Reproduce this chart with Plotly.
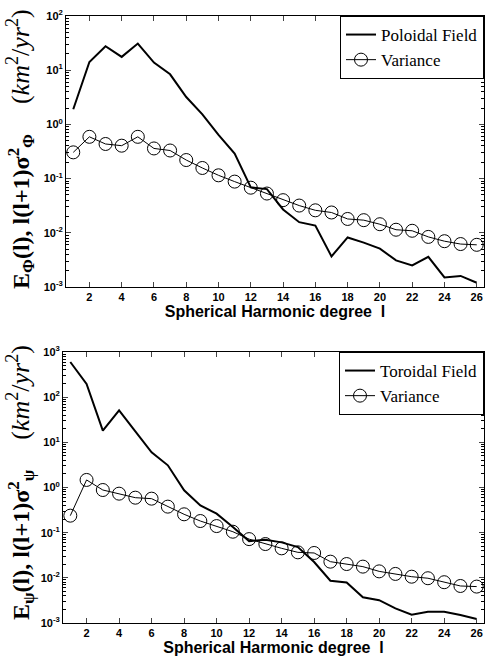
import plotly.graph_objects as go

degrees = list(range(1, 27))

poloidal_field = [1.9, 14.2, 27.7, 17.6, 31.0, 13.8, 8.4, 3.2, 1.53, 0.64, 0.29, 0.069, 0.064,
                  0.027, 0.0157, 0.0136, 0.00367, 0.0082, 0.0066, 0.0051, 0.0031, 0.0025,
                  0.0036, 0.0015, 0.0016, 0.0012]
poloidal_variance = [0.305, 0.59, 0.435, 0.405, 0.59, 0.36, 0.33, 0.22, 0.157, 0.115, 0.088,
                     0.068, 0.053, 0.040, 0.0318, 0.026, 0.0237, 0.018, 0.0171, 0.0144, 0.0114,
                     0.0109, 0.0084, 0.0070, 0.0062, 0.0060]

toroidal_field = [600, 196, 18.1, 51, 17.5, 6.0, 3.1, 0.865, 0.40, 0.264, 0.133, 0.065, 0.070,
                  0.061, 0.048, 0.0224, 0.00865, 0.0079, 0.0037, 0.0032, 0.0021, 0.00153,
                  0.00178, 0.00178, 0.0015, 0.00123]
toroidal_variance = [0.238, 1.47, 0.88, 0.73, 0.595, 0.566, 0.377, 0.255, 0.181, 0.14, 0.105,
                     0.072, 0.056, 0.045, 0.0367, 0.0355, 0.0228, 0.0202, 0.0177, 0.0139,
                     0.0122, 0.0106, 0.0098, 0.0080, 0.0066, 0.0064]

x_ticks = list(range(2, 27, 2))
top_y_ticks = [1e-3, 1e-2, 1e-1, 1e0, 1e1, 1e2]
top_y_labels = ["10<sup>-3</sup>", "10<sup>-2</sup>", "10<sup>-1</sup>", "10<sup>0</sup>",
                "10<sup>1</sup>", "10<sup>2</sup>"]
bot_y_ticks = [1e-3, 1e-2, 1e-1, 1e0, 1e1, 1e2, 1e3]
bot_y_labels = top_y_labels + ["10<sup>3</sup>"]

top_minor = [m * 10.0 ** e for e in range(-3, 2) for m in range(2, 10)]
bot_minor = [m * 10.0 ** e for e in range(-3, 3) for m in range(2, 10)]

W, H = 491, 656


def px(x):
    return x / W


def py(y):
    return 1 - y / H


fig = go.Figure()

fig.add_trace(go.Scatter(x=degrees, y=poloidal_field, mode="lines", name="Poloidal Field",
                         line=dict(color="black", width=2), xaxis="x", yaxis="y", legend="legend"))
fig.add_trace(go.Scatter(x=degrees, y=poloidal_variance, mode="lines+markers", name="Variance",
                         line=dict(color="black", width=1),
                         marker=dict(symbol="circle-open", size=13, color="black", line=dict(width=1)),
                         xaxis="x", yaxis="y", legend="legend"))
fig.add_trace(go.Scatter(x=degrees, y=toroidal_field, mode="lines", name="Toroidal Field",
                         line=dict(color="black", width=2), xaxis="x2", yaxis="y2", legend="legend2"))
fig.add_trace(go.Scatter(x=degrees, y=toroidal_variance, mode="lines+markers", name="Variance",
                         line=dict(color="black", width=1),
                         marker=dict(symbol="circle-open", size=13, color="black", line=dict(width=1)),
                         xaxis="x2", yaxis="y2", legend="legend2"))

tickfont = dict(family="Liberation Sans, Arial", size=11, color="black", weight="bold")
titlefont = dict(family="Liberation Sans, Arial", size=16, color="black", weight="bold")

common_x = dict(range=[0.55, 26.45], tickvals=x_ticks, ticks="inside", ticklen=5,
                showline=True, linecolor="black", linewidth=1, mirror="ticks",
                showgrid=False, zeroline=False, tickfont=tickfont, automargin=False,
                title=dict(text="Spherical Harmonic degree  l", font=titlefont, standoff=3))
common_y = dict(type="log", ticks="inside", ticklen=5, showline=True, linecolor="black",
                linewidth=1, mirror="ticks", showgrid=False, zeroline=False,
                tickfont=tickfont, automargin=False)

legend_font = dict(family="Liberation Serif, Times New Roman", size=17, color="black")

ytitle_top = ("<b>E<sub>Φ</sub>(l), l(l+1)σ<sup>2</sup><sub>Φ</sub></b>"
              "     <span style='font-size:26px'>(<i>km</i><sup>2</sup>/<i>yr</i><sup>2</sup>)</span>")
ytitle_bot = ("<b>E<sub>ψ</sub>(l), l(l+1)σ<sup>2</sup><sub>ψ</sub></b>"
              "     <span style='font-size:26px'>(<i>km</i><sup>2</sup>/<i>yr</i><sup>2</sup>)</span>")

fig.update_layout(
    width=W, height=H,
    margin=dict(l=0, r=0, t=0, b=0),
    paper_bgcolor="white", plot_bgcolor="white",
    showlegend=True,
    xaxis=dict(domain=[px(66), px(484)], anchor="y", **common_x),
    yaxis=dict(domain=[py(287), py(16)], anchor="x", range=[-3, 2],
               tickvals=top_y_ticks, ticktext=top_y_labels,
               minor=dict(tickvals=top_minor, ticks="inside", ticklen=3, tickcolor="black",
                          showgrid=False),
               **common_y),
    xaxis2=dict(domain=[px(63), px(484)], anchor="y2", **common_x),
    yaxis2=dict(domain=[py(623), py(352)], anchor="x2", range=[-3, 3],
                tickvals=bot_y_ticks, ticktext=bot_y_labels,
                minor=dict(tickvals=bot_minor, ticks="inside", ticklen=3, tickcolor="black",
                           showgrid=False),
                **common_y),
    legend=dict(x=px(484), y=py(16), xanchor="right", yanchor="top",
                bgcolor="white", bordercolor="black", borderwidth=1,
                font=legend_font, itemwidth=30, tracegroupgap=0),
    legend2=dict(x=px(484), y=py(352), xanchor="right", yanchor="top",
                 bgcolor="white", bordercolor="black", borderwidth=1,
                 font=legend_font, itemwidth=30, tracegroupgap=0),
    annotations=[
        dict(text=ytitle_top, textangle=-90, xref="paper", yref="paper", x=px(20), y=py(149),
             xanchor="center", yanchor="middle", showarrow=False,
             font=dict(family="Liberation Serif, Times New Roman", size=24, color="black")),
        dict(text=ytitle_bot, textangle=-90, xref="paper", yref="paper", x=px(20), y=py(483),
             xanchor="center", yanchor="middle", showarrow=False,
             font=dict(family="Liberation Serif, Times New Roman", size=24, color="black")),
    ],
)

fig.write_html("out.html", config={"displayModeBar": False},
               post_script="document.body.style.margin='0';document.body.style.overflow='hidden';")
